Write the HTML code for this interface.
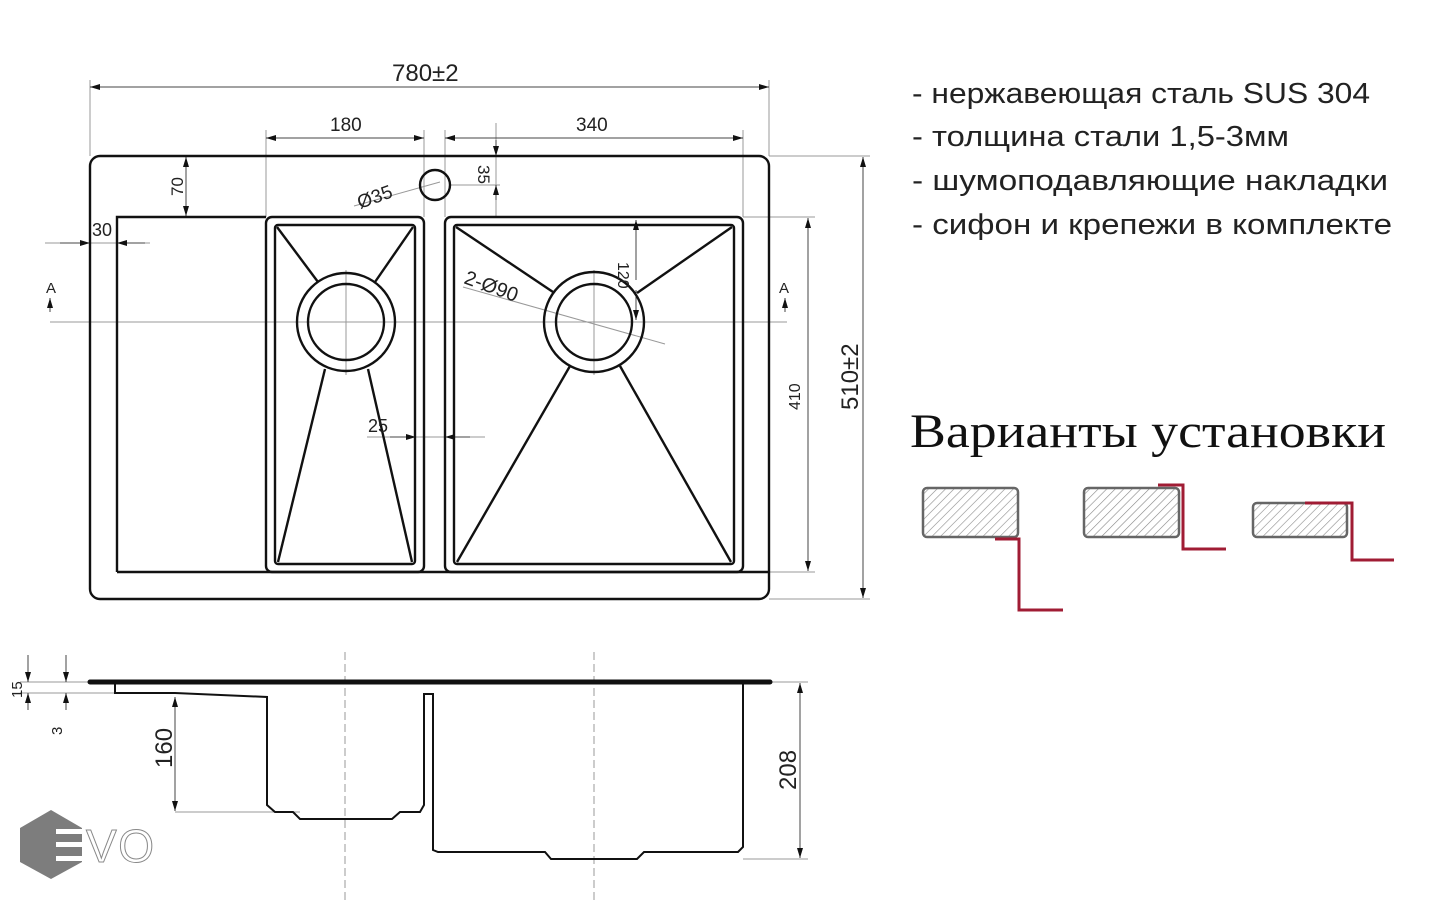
<!DOCTYPE html>
<html><head><meta charset="utf-8"><style>
html,body{margin:0;padding:0;background:#fff;}
svg{display:block;}
.t{font-family:"Liberation Sans Narrow","Liberation Sans",sans-serif;fill:#222;}
</style></head><body>
<svg width="1448" height="900" viewBox="0 0 1448 900" xmlns="http://www.w3.org/2000/svg">
<defs>
<marker id="ar" viewBox="0 0 10 6" refX="10" refY="3" markerWidth="10" markerHeight="6" orient="auto-start-reverse" markerUnits="userSpaceOnUse"><path d="M0,0 L10,3 L0,6 z" fill="#111"/></marker>
<pattern id="hatch" width="6" height="6" patternUnits="userSpaceOnUse" patternTransform="rotate(45)"><line x1="0" y1="0" x2="0" y2="6" stroke="#888" stroke-width="1.2"/></pattern>
</defs>
<rect width="1448" height="900" fill="#fff"/>

<g stroke="#999" stroke-width="1" fill="none">
<line x1="90" y1="80" x2="90" y2="156"/><line x1="769" y1="80" x2="769" y2="156"/>
<line x1="266" y1="130" x2="266" y2="217"/><line x1="424" y1="130" x2="424" y2="217"/>
<line x1="445" y1="130" x2="445" y2="217"/><line x1="743" y1="130" x2="743" y2="217"/>
<line x1="496" y1="123" x2="496" y2="217"/><line x1="450" y1="185" x2="500" y2="185"/>
<line x1="45" y1="243" x2="150" y2="243"/>
<line x1="50" y1="322" x2="787" y2="322"/>
<line x1="346" y1="270" x2="346" y2="375"/><line x1="594" y1="270" x2="594" y2="375"/>
<line x1="743" y1="217" x2="815" y2="217"/><line x1="743" y1="572" x2="815" y2="572"/>
<line x1="769" y1="156" x2="870" y2="156"/><line x1="769" y1="599" x2="870" y2="599"/>
<line x1="367" y1="437" x2="485" y2="437"/>
<line x1="354" y1="206" x2="440" y2="182"/>
<line x1="463" y1="287" x2="665" y2="344"/>
<line x1="345" y1="652" x2="345" y2="900" stroke-dasharray="8,4"/>
<line x1="594" y1="652" x2="594" y2="900" stroke-dasharray="8,4"/>
<line x1="20" y1="682" x2="90" y2="682"/><line x1="20" y1="693" x2="115" y2="693"/>
<line x1="175" y1="812" x2="300" y2="812"/>
<line x1="743" y1="859" x2="808" y2="859"/><line x1="770" y1="682" x2="808" y2="682"/>
</g>
<g stroke="#444" stroke-width="1" fill="none" marker-start="url(#ar)" marker-end="url(#ar)">
<line x1="90" y1="87" x2="769" y2="87"/>
<line x1="266" y1="138" x2="424" y2="138"/>
<line x1="445" y1="138" x2="743" y2="138"/>
<line x1="186" y1="157" x2="186" y2="216"/>
<line x1="808" y1="218" x2="808" y2="571"/>
<line x1="863" y1="157" x2="863" y2="598"/>
<line x1="175" y1="697" x2="175" y2="811"/>
<line x1="800" y1="683" x2="800" y2="858"/>
</g>
<g stroke="#444" stroke-width="1" fill="none" marker-end="url(#ar)">
<line x1="496" y1="140" x2="496" y2="156"/><line x1="496" y1="200" x2="496" y2="185"/>
<line x1="60" y1="243" x2="90" y2="243"/><line x1="145" y1="243" x2="117" y2="243"/>
<line x1="50" y1="312" x2="50" y2="298"/><line x1="785" y1="312" x2="785" y2="298"/>
<line x1="390" y1="437" x2="416" y2="437"/><line x1="470" y1="437" x2="445" y2="437"/>
<line x1="636" y1="280" x2="636" y2="220"/><line x1="636" y1="290" x2="636" y2="320"/>
<line x1="28" y1="655" x2="28" y2="682"/><line x1="28" y1="710" x2="28" y2="693"/>
<line x1="66" y1="655" x2="66" y2="682"/><line x1="66" y1="710" x2="66" y2="693"/>
</g>

<g stroke="#111" stroke-width="2.4" fill="none">
<rect x="90" y="156" width="679" height="443" rx="10"/>
<path d="M117,572 V217 H266"/>
<path d="M117,572 H769"/>
<rect x="266" y="217" width="158" height="355" rx="6"/>
<rect x="275" y="225" width="140" height="339" rx="3"/>
<rect x="445" y="217" width="298" height="355" rx="6"/>
<rect x="454" y="225" width="280" height="339" rx="3"/>
<circle cx="346" cy="322" r="49"/><circle cx="346" cy="322" r="38"/>
<circle cx="594" cy="322" r="50"/><circle cx="594" cy="322" r="38"/>
<circle cx="435" cy="185" r="15"/>
<line x1="277" y1="227" x2="318" y2="282"/><line x1="413" y1="227" x2="375" y2="282"/>
<line x1="325" y1="369" x2="278" y2="562"/><line x1="368" y1="369" x2="412" y2="562"/>
<line x1="456" y1="227" x2="553" y2="292"/><line x1="732" y1="227" x2="637" y2="293"/>
<line x1="570" y1="366" x2="457" y2="562"/><line x1="620" y1="366" x2="731" y2="562"/>
</g>

<g stroke="#111" fill="none">
<line x1="90" y1="682" x2="770" y2="682" stroke-width="5" stroke-linecap="round"/>
<path stroke-width="2" d="M115,684 V693 H175 L267,697 V805 L275,812 H293 L300,819 H392 L400,812 H420 L424,805 V694 H433 V850 L438,852 H545 L551,859 H637 L644,852 H738 L743,847 V684"/>
</g>

<g class="t" font-size="19">
<text x="392" y="81" font-size="24">780±2</text>
<text x="330" y="131" font-size="19">180</text>
<text x="576" y="131" font-size="19">340</text>
<text x="92" y="236" font-size="18">30</text>
<text x="46" y="293" font-size="15">A</text>
<text x="779" y="293" font-size="15">A</text>
<text x="368" y="432" font-size="18">25</text>
<text transform="translate(183,196) rotate(-90)" font-size="17">70</text>
<text transform="translate(360,209) rotate(-20)" font-size="19">Ø35</text>
<text transform="translate(478,165) rotate(90)" font-size="17">35</text>
<text transform="translate(463,283) rotate(20)" font-size="20">2-Ø90</text>
<text transform="translate(618,262) rotate(90)" font-size="16">120</text>
<text transform="translate(800,410) rotate(-90)" font-size="16">410</text>
<text transform="translate(858,410) rotate(-90)" font-size="24">510±2</text>
<text transform="translate(22,698) rotate(-90)" font-size="15">15</text>
<text transform="translate(62,735) rotate(-90)" font-size="15">3</text>
<text transform="translate(172,768) rotate(-90)" font-size="24">160</text>
<text transform="translate(796,790) rotate(-90)" font-size="24">208</text>
</g>

<polygon points="51,810 82,828 82,862 51,879 20,862 20,828" fill="#7d7d7d"/>
<rect x="56" y="829" width="30" height="5" fill="#fff"/>
<rect x="56" y="842" width="30" height="5" fill="#fff"/>
<rect x="56" y="856" width="30" height="5" fill="#fff"/>
<text x="86" y="862" font-family="Liberation Sans,sans-serif" font-size="46" textLength="68" fill="#fff" stroke="#888" stroke-width="1">VO</text>

<g font-family="'Liberation Sans','DejaVu Sans',sans-serif" font-size="29" fill="#222">
<text x="912" y="103" textLength="458" lengthAdjust="spacingAndGlyphs">- нержавеющая сталь SUS 304</text>
<text x="912" y="146" textLength="377" lengthAdjust="spacingAndGlyphs">- толщина стали 1,5-3мм</text>
<text x="912" y="190" textLength="476" lengthAdjust="spacingAndGlyphs">- шумоподавляющие накладки</text>
<text x="912" y="234" textLength="480" lengthAdjust="spacingAndGlyphs">- сифон и крепежи в комплекте</text>
</g>
<text x="910" y="447" font-family="'Liberation Serif',serif" font-size="48" fill="#111" textLength="476" lengthAdjust="spacingAndGlyphs">Варианты установки</text>

<g stroke="#666" stroke-width="2.5" fill="url(#hatch)">
<rect x="923" y="488" width="95" height="49" rx="4"/>
<rect x="1084" y="488" width="95" height="49" rx="4"/>
<rect x="1253" y="503" width="94" height="34" rx="4"/>
</g>
<g stroke="#a01c34" stroke-width="3" fill="none">
<path d="M995,539 H1019 V610 H1063"/>
<path d="M1158,485 H1183 V549 H1226"/>
<path d="M1305,503 H1352 V560 H1394"/>
</g>
</svg>
</body></html>
